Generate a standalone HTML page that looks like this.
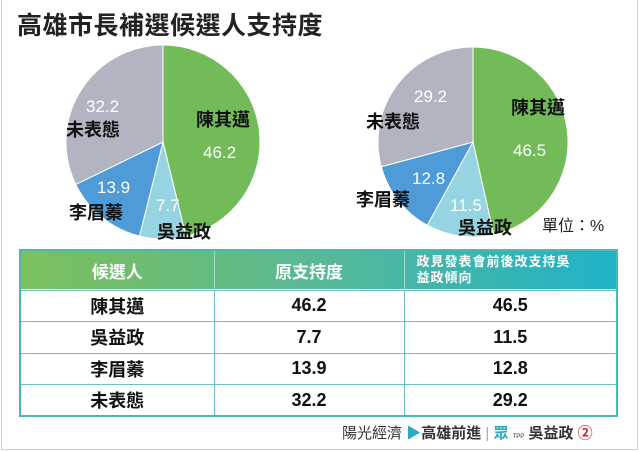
<!DOCTYPE html>
<html><head><meta charset="utf-8">
<style>
*{margin:0;padding:0;box-sizing:border-box}
body{width:639px;height:452px;background:#fff;position:relative;overflow:hidden;font-family:"Liberation Sans","Noto Sans CJK TC",sans-serif;}
.frame{position:absolute;left:1px;top:0;width:637px;height:450px;border:1px solid #cfcfcf;border-top:none}
.title{position:absolute;left:17px;top:6px;font-size:25px;font-weight:bold;color:#222;letter-spacing:0.5px;white-space:nowrap}
svg{position:absolute;left:0;top:0}
table{position:absolute;left:19px;top:249px;width:599px;border-collapse:collapse;border:2px solid #4cb6b0}
th{height:40px;color:#fff;font-weight:bold;font-size:17px;}
td{height:31.5px;text-align:center;font-size:18px;font-weight:bold;color:#111;border:1px solid #6cc2bc}
th+th{border-left:1px solid #9fd8d0}
.foot{position:absolute;left:342px;top:422px;font-size:15px;color:#333;white-space:nowrap}
</style></head><body>
<div class="frame"></div>
<div class="title">高雄市長補選候選人支持度</div>
<svg width="639" height="452" id="s">
<defs><linearGradient id="g" x1="0" x2="1"><stop offset="0" stop-color="#7cc05a"/><stop offset="0.5" stop-color="#57b996"/><stop offset="1" stop-color="#1fb2c9"/></linearGradient></defs>
<rect x="19" y="249" width="599" height="40" fill="url(#g)"/>
</svg>
<table>
<tr><th style="width:194px;background:transparent">候選人</th><th style="width:190px">原支持度</th><th style="font-size:13px;text-align:left;padding-left:12px;line-height:16px;letter-spacing:1px">政見發表會前後改支持吳<br>益政傾向</th></tr>
<tr><td>陳其邁</td><td>46.2</td><td>46.5</td></tr>
<tr><td>吳益政</td><td>7.7</td><td>11.5</td></tr>
<tr><td>李眉蓁</td><td>13.9</td><td>12.8</td></tr>
<tr><td>未表態</td><td>32.2</td><td>29.2</td></tr>
</table>
<div class="foot">陽光經濟 <span style="color:#2aa9c0">▶</span><b>高雄前進</b> <span style="color:#aaa">|</span> <span style="color:#2aa9c0;font-weight:bold">眾</span> <span style="font-size:6px">TPP</span> <b>吳益政</b> <span style="color:#d22;font-weight:bold">②</span></div>
<script>
var s=document.getElementById('s'),NS='http://www.w3.org/2000/svg';
function pie(cx,cy,r,vals,cols){var a=-Math.PI/2,t=vals.reduce(function(p,c){return p+c},0);
vals.forEach(function(v,i){var b=a+v/t*2*Math.PI;var x1=cx+r*Math.cos(a),y1=cy+r*Math.sin(a),x2=cx+r*Math.cos(b),y2=cy+r*Math.sin(b);
var p=document.createElementNS(NS,'path');p.setAttribute('d','M'+cx+','+cy+'L'+x1+','+y1+'A'+r+','+r+' 0 '+((b-a)>Math.PI?1:0)+' 1 '+x2+','+y2+'Z');p.setAttribute('fill',cols[i]);p.setAttribute('stroke','#fff');p.setAttribute('stroke-width','1');s.appendChild(p);a=b;});}
function txt(x,y,t,c,sz,w){var e=document.createElementNS(NS,'text');e.setAttribute('x',x);e.setAttribute('y',y);e.setAttribute('fill',c);e.setAttribute('font-size',sz);if(w)e.setAttribute('font-weight','bold');e.setAttribute('font-family','"Liberation Sans","Noto Sans CJK TC",sans-serif');e.textContent=t;s.appendChild(e);}
var C=['#73bb58','#97d4e1','#4e9bd7','#b3b4c1'];
pie(163,142,97,[46.2,7.7,13.9,32.2],C);
pie(473,142,95,[46.5,11.5,12.8,29.2],C);
txt(196,126,'陳其邁','#111',18,1);txt(203,158,'46.2','#fff',17);
txt(86,112,'32.2','#fff',17);txt(66,136,'未表態','#111',18,1);
txt(97,193,'13.9','#fff',17);txt(69,219,'李眉蓁','#111',18,1);
txt(156,211,'7.7','#fff',17);txt(157,238,'吳益政','#111',18,1);
txt(511,114,'陳其邁','#111',18,1);txt(513,156,'46.5','#fff',17);
txt(414,102,'29.2','#fff',17);txt(366,128,'未表態','#111',18,1);
txt(412,184,'12.8','#fff',17);txt(356,206,'李眉蓁','#111',18,1);
txt(450,211,'11.5','#fff',17);txt(458,234,'吳益政','#111',18,1);
txt(542,231,'單位：%','#222',16);
</script>
</body></html>
